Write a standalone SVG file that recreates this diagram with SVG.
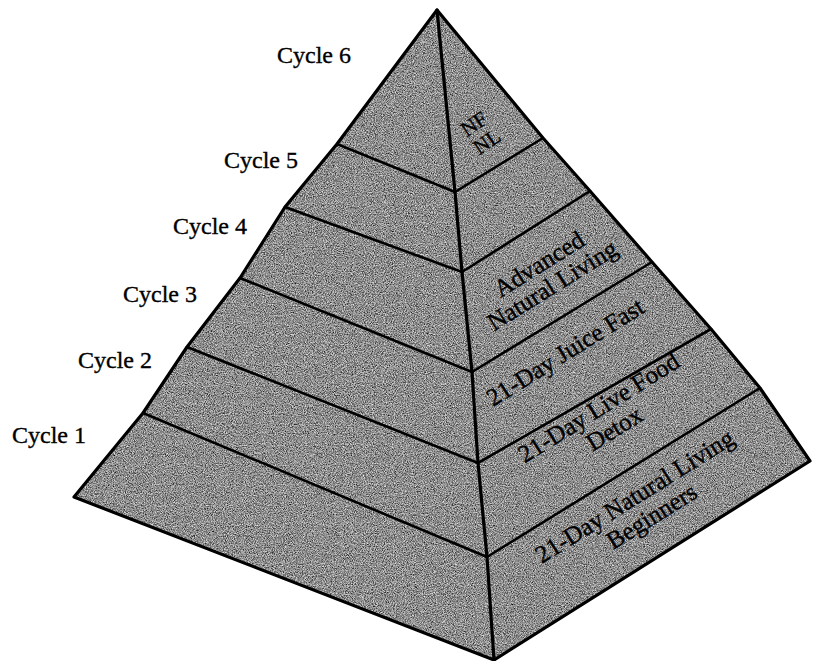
<svg xmlns="http://www.w3.org/2000/svg" width="817" height="661" viewBox="0 0 817 661">
<style>
.face{fill:#8f8f8f;stroke:none}
.edge{fill:none;stroke:#000;stroke-width:3.2;stroke-linejoin:round;stroke-linecap:round}
.band{fill:none;stroke:#000;stroke-width:2.6;stroke-linecap:round}
.cyc{font-family:"Liberation Serif","Times New Roman",serif;font-size:24px;fill:#000;stroke:#000;stroke-width:0.35}
.lab{font-family:"Liberation Serif","Times New Roman",serif;font-size:25px;fill:#000;stroke:#000;stroke-width:0.4;text-anchor:middle}
.lab-s{font-family:"Liberation Serif","Times New Roman",serif;font-size:21px;fill:#000;stroke:#000;stroke-width:0.4;text-anchor:middle}
</style>
<defs>
<filter id="grain" x="0" y="0" width="100%" height="100%">
<feTurbulence type="fractalNoise" baseFrequency="0.95" numOctaves="2" seed="7" result="n"/>
<feColorMatrix in="n" type="matrix" values="0 0 0 0 0  0 0 0 0 0  0 0 0 0 0  1.7 0 0 0 -0.55" result="a"/>
<feComposite in="a" in2="SourceGraphic" operator="in"/>
</filter>
<filter id="grainw" x="0" y="0" width="100%" height="100%">
<feTurbulence type="fractalNoise" baseFrequency="0.9" numOctaves="2" seed="21" result="n"/>
<feColorMatrix in="n" type="matrix" values="0 0 0 0 1  0 0 0 0 1  0 0 0 0 1  1.7 0 0 0 -0.6" result="a"/>
<feComposite in="a" in2="SourceGraphic" operator="in"/>
</filter>
</defs>
<rect width="817" height="661" fill="#fff"/>

<g id="pyramid">
<polygon id="outline-fill" class="face" points="437,10 543,138 590,191 652,262 711,329 760,388 810,461 494,660 74,497 143,413 187,347 240,278 285,207 337,144"/>
<polygon fill="#000" filter="url(#grain)" points="437,10 543,138 590,191 652,262 711,329 760,388 810,461 494,660 74,497 143,413 187,347 240,278 285,207 337,144"/>
<polygon fill="#fff" filter="url(#grainw)" points="437,10 543,138 590,191 652,262 711,329 760,388 810,461 494,660 74,497 143,413 187,347 240,278 285,207 337,144"/>
</g>

<g id="connectors">
<polyline id="ridge" class="edge" points="437,10 455,192 462,272 472,372 478,463 487,557 494,660"/>
<line class="band" x1="337" y1="144" x2="455" y2="192"/>
<line class="band" x1="285" y1="207" x2="462" y2="272"/>
<line class="band" x1="240" y1="278" x2="472" y2="372"/>
<line class="band" x1="187" y1="347" x2="478" y2="463"/>
<line class="band" x1="143" y1="413" x2="487" y2="557"/>
<line class="band" x1="455" y1="192" x2="543" y2="138"/>
<line class="band" x1="462" y1="272" x2="590" y2="191"/>
<line class="band" x1="472" y1="372" x2="652" y2="262"/>
<line class="band" x1="478" y1="463" x2="711" y2="329"/>
<line class="band" x1="487" y1="557" x2="760" y2="388"/>
<polygon id="outline" class="edge" points="437,10 543,138 590,191 652,262 711,329 760,388 810,461 494,660 74,497 143,413 187,347 240,278 285,207 337,144"/>
</g>

<g id="cycle6"><text class="cyc" x="277" y="63">Cycle 6</text></g>
<g id="cycle5"><text class="cyc" x="224" y="168">Cycle 5</text></g>
<g id="cycle4"><text class="cyc" x="173" y="234">Cycle 4</text></g>
<g id="cycle3"><text class="cyc" x="123" y="302">Cycle 3</text></g>
<g id="cycle2"><text class="cyc" x="78" y="368">Cycle 2</text></g>
<g id="cycle1"><text class="cyc" x="12" y="443">Cycle 1</text></g>

<g id="level6" transform="translate(480,133) rotate(-34)">
<text class="lab-s" x="0" y="-4">NF</text>
<text class="lab-s" x="1" y="18">NL</text>
</g>
<g id="level5" transform="translate(545.5,274.5) rotate(-32)">
<text class="lab" x="0" y="-4">Advanced</text>
<text class="lab" x="0" y="21">Natural Living</text>
</g>
<g id="level4" transform="translate(565,352) rotate(-32)">
<text class="lab" x="0" y="8.5">21-Day Juice Fast</text>
</g>
<g id="level3" transform="translate(605.5,418.5) rotate(-32)">
<text class="lab" x="0" y="-4.5">21-Day Live Food</text>
<text class="lab" x="2" y="21.5">Detox</text>
</g>
<g id="level2" transform="translate(643,506) rotate(-32)">
<text class="lab" x="-2" y="-4.5">21-Day Natural Living</text>
<text class="lab" x="2" y="21.5">Beginners</text>
</g>
</svg>
